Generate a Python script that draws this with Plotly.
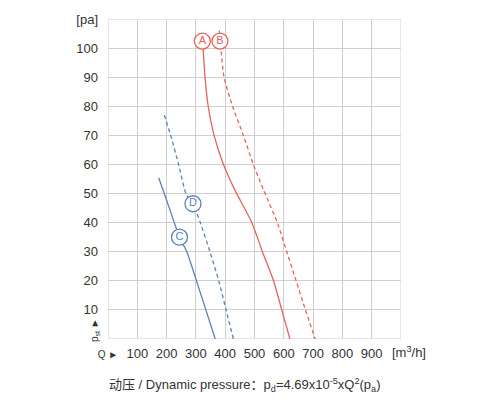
import plotly.graph_objects as go

# Curve data (Q in m3/h, p_st in Pa)
a_q = [324, 331, 342, 362, 394, 434, 491, 527, 565, 593, 621]
a_p = [100.7, 90, 80, 70, 60, 51, 40, 30, 20, 10, 0]
b_q = [380, 385, 396, 425, 462, 496, 532, 578, 610, 642, 674, 707]
b_p = [106, 100, 90, 80, 70, 60, 51, 40, 30, 20, 10, 0]
c_q = [173, 192, 224, 244, 269, 302, 334, 366]
c_p = [55.4, 50, 40.7, 35, 30, 20, 10, 0]
d_q = [192, 214, 241, 266, 290, 315, 348, 378, 403, 428]
d_p = [77, 70, 60, 50, 46.5, 40, 30, 20, 10, 0]

labels = ["A", "B", "C", "D"]
label_q = [322, 382, 244, 290]
label_p = [102.4, 102.4, 35, 46.5]
label_colors = ["#e8625c", "#e8625c", "#5a82b8", "#5a82b8"]

x_tickvals = [0, 100, 200, 300, 400, 500, 600, 700, 800, 900]
x_ticktext = ["<span style='font-size:10px'>Q ►</span>", "100", "200", "300", "400", "500",
              "600", "700", "800", "900"]
x_unit = "[m<sup>3</sup>/h]"
y_tickvals = [10, 20, 30, 40, 50, 60, 70, 80, 90, 100, 110]
y_ticktext = ["10", "20", "30", "40", "50", "60", "70", "80", "90", "100", "[pa]"]

RED = "#e8625c"
BLUE = "#5a82b8"

fig = go.Figure()
fig.add_trace(go.Scatter(x=a_q, y=a_p, mode="lines", line=dict(color=RED, width=1.3, shape="spline", smoothing=0.6)))
fig.add_trace(go.Scatter(x=b_q, y=b_p, mode="lines", line=dict(color=RED, width=1.3, dash="4px,3px", shape="spline", smoothing=0.6)))
fig.add_trace(go.Scatter(x=c_q, y=c_p, mode="lines", line=dict(color=BLUE, width=1.3, shape="spline", smoothing=0.6)))
fig.add_trace(go.Scatter(x=d_q, y=d_p, mode="lines", line=dict(color=BLUE, width=1.3, dash="4px,3px", shape="spline", smoothing=0.6)))
fig.add_trace(go.Scatter(
    x=label_q, y=label_p, mode="markers+text", text=labels,
    textfont=dict(color=label_colors, size=11, family="Liberation Sans"),
    textposition="middle center",
    marker=dict(symbol="circle", size=16, color="white", line=dict(color=label_colors, width=1.3)),
))

fig.update_layout(
    width=500, height=400,
    margin=dict(l=108, r=99, t=17, b=61),
    plot_bgcolor="white", paper_bgcolor="white",
    showlegend=False,
    font=dict(family="Liberation Sans, Arial, sans-serif", size=13, color="#333333"),
    xaxis=dict(range=[0, 1000], tickvals=x_tickvals, ticktext=x_ticktext, tickangle=0,
               showgrid=True, gridcolor="#cfcfcf", gridwidth=1, zeroline=False,
               showline=False, ticks="", ticklabelstandoff=5),
    yaxis=dict(range=[0, 110], tickvals=y_tickvals, ticktext=y_ticktext,
               showgrid=True, gridcolor="#cfcfcf", gridwidth=1, zeroline=False,
               showline=False, ticks="", ticklabelstandoff=9),
    shapes=[dict(type="rect", xref="x", yref="y", x0=0, x1=1000, y0=0, y1=110,
                 line=dict(color="#cfcfcf", width=1), layer="below")],
    annotations=[
        dict(x=87, y=344, xref="paper", yref="paper", text="p<sub>st</sub> ►", textangle=-90,
             showarrow=False, font=dict(size=10, color="#333333")),
        dict(x=390, y=352, xref="paper", yref="paper", xanchor="left", yanchor="middle",
             text=x_unit, showarrow=False, font=dict(size=13, color="#333333")),
        dict(x=107, y=385, xref="paper", yref="paper", xanchor="left", yanchor="middle",
             text="动压 / Dynamic pressure：p<sub>d</sub>=4.69x10<sup>-5</sup>xQ<sup>2</sup>(p<sub>a</sub>)",
             showarrow=False, font=dict(size=13, color="#333333",
                                        family="Liberation Sans, Noto Sans CJK SC, sans-serif")),
    ],
)
# convert pixel-based annotation coords to paper coords
W, H = 500, 400
L, R, T, B = 108, 99, 17, 61
pw, ph = W - L - R, H - T - B
anns = list(fig.layout.annotations)
for an in anns:
    px, py = an.x, an.y
    an.x = (px - L) / pw
    an.y = 1 - (py - T) / ph
fig.layout.annotations = anns

fig.write_html("out.html")
